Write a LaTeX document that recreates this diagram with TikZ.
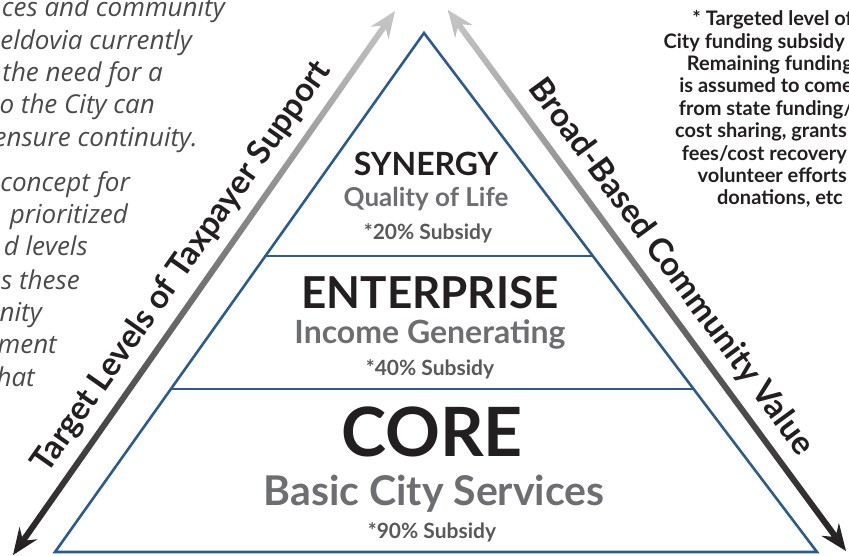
\documentclass[tikz,border=0pt]{standalone}
\usepackage{fontspec}
\setmainfont{Lato}
\newfontfamily\notefont{Open Sans}
\usetikzlibrary{calc,positioning}

\definecolor{pyrblue}{HTML}{2B5C8F}
\definecolor{inkblack}{HTML}{231F20}
\definecolor{subgray}{HTML}{6D6E71}
\definecolor{pctgray}{HTML}{58595B}
\definecolor{notegray}{HTML}{4A4A4A}
\definecolor{arrowlight}{HTML}{C6C6C6}

\newcommand\fsz[1]{\fontsize{#1}{#1}\selectfont}

% double headed arrow, shaded light (top) to dark (bottom)
\newcommand\gradarrow[2]{%
	\coordinate (h1) at ($(#1)!27pt!(#2)$);
	\coordinate (s1) at ($(#1)!20pt!(#2)$);
	\coordinate (h2) at ($(#2)!27pt!(#1)$);
	\coordinate (s2) at ($(#2)!20pt!(#1)$);
	\shade[top color=arrowlight, bottom color=inkblack]
		(#1) -- ($(h1)!11pt!90:(#2)$) -- ($(s1)!3pt!90:(#2)$)
		-- ($(s2)!3pt!-90:(#1)$) -- ($(h2)!11pt!-90:(#1)$)
		-- (#2) -- ($(h2)!11pt!90:(#1)$) -- ($(s2)!3pt!90:(#1)$)
		-- ($(s1)!3pt!-90:(#2)$) -- ($(h1)!11pt!-90:(#2)$) -- cycle;
}

\tikzset{
	tiername/.style = { text = inkblack, inner sep = 0pt },
	tiersub/.style = { text = subgray, inner sep = 0pt },
	tierpct/.style = { text = pctgray, inner sep = 0pt, font = \bfseries\fsz{21} },
	axislabel/.style = { sloped, text = inkblack, inner sep = 0pt, font = \bfseries\fsz{33} },
	noteline/.style = { anchor = base east, inner sep = 0pt, text = notegray, font = \notefont\itshape\fsz{26} },
	fundline/.style = { anchor = base east, inner sep = 0pt, text = inkblack, font = \bfseries\fsz{20} }
}

\begin{document}
\begin{tikzpicture}[x = 1pt, y = -1pt]
	\useasboundingbox (0,0) rectangle (849,556);
	\clip (0,0) rectangle (849,556);

	% left side note (cut by the frame)
	\foreach \ex/\ey/\txt in {225/17/{ces and community}, 192/50/{eldovia currently},
		163/82/{the need for a}, 155/114/{o the City can}, 198/147/{ensure continuity.},
		130/192/{concept for}, 128/224/{prioritized}, 88/256/{d levels},
		80/289/{s these}, 42/321/{nity}, 57/353/{ment}, 35/386/{hat}}
		\node [noteline] at (\ex,\ey) { \txt };

	% right side note
	\foreach \ex/\ey/\txt in {853/26/{* Targeted level of}, 845/49/{City funding subsidy},
		853/71/{Remaining funding}, 853/93/{is assumed to come}, 853/116/{from state funding/},
		847/138/{cost sharing, grants}, 847/161/{fees/cost recovery},
		847/183/{volunteer efforts}, 843/205/{donations, etc}}
		\node [fundline] at (\ex,\ey) { \txt };

	% arrows
	\coordinate (lefttop) at (395,11);
	\coordinate (leftbot) at (13,555);
	\coordinate (righttop) at (448,10);
	\coordinate (rightbot) at (846,551);
	\gradarrow{lefttop}{leftbot}
	\gradarrow{righttop}{rightbot}
	\path (leftbot) -- node [axislabel, above = 12pt, pos = 0.5] (taxlabel) { Target Levels of Taxpayer Support } (lefttop);
	\path (righttop) -- node [axislabel, above = 12pt, pos = 0.505] (valuelabel) { Broad-Based Community Value } (rightbot);

	% pyramid
	\coordinate (apex) at (424,33);
	\coordinate (baseleft) at (55,552);
	\coordinate (baseright) at (817,552);
	\draw [pyrblue, line width = 2.6pt, line join = miter] (apex) -- (baseleft) -- (baseright) -- cycle;
	\draw [pyrblue, line width = 1.6pt] ($(apex)!0.43!(baseleft)$) -- ($(apex)!0.43!(baseright)$);
	\draw [pyrblue, line width = 1.6pt] ($(apex)!0.686!(baseleft)$) -- ($(apex)!0.686!(baseright)$);

	\node [tiername, font = \bfseries\fsz{32}] (synergy) at (426,164) { SYNERGY };
	\node [tiersub, font = \bfseries\fsz{26}] (synsub) at (426,199) { Quality of Life };
	\node [tierpct] (synpct) at (428,233) { *20\% Subsidy };

	\node [tiername, font = \bfseries\fsz{44}] (enterprise) at (430,293) { ENTERPRISE };
	\node [tiersub, font = \bfseries\fsz{32}] (entsub) at (430,334) { Income Generating };
	\node [tierpct] (entpct) at (430,369) { *40\% Subsidy };

	\node [tiername, font = \bfseries\fsz{68}] (core) at (432,432) { CORE };
	\node [tiersub, font = \bfseries\fsz{41}] (coresub) at (434,494) { Basic City Services };
	\node [tierpct] (corepct) at (432,532) { *90\% Subsidy };
\end{tikzpicture}
\end{document}
